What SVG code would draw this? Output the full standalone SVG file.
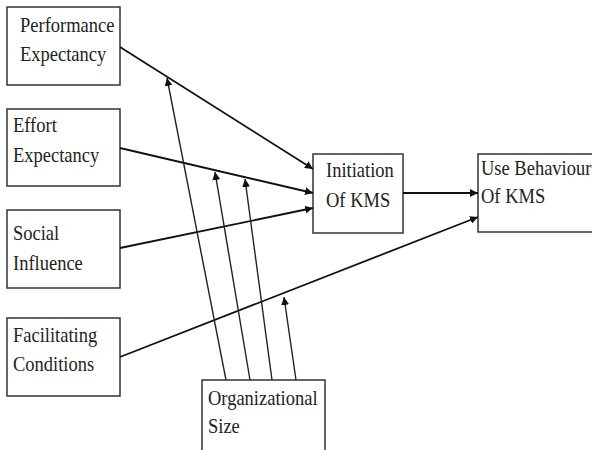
<svg xmlns="http://www.w3.org/2000/svg" width="592" height="450" viewBox="0 0 592 450">
<style>
.box{fill:#fff;stroke:#333;stroke-width:1.5}
.t{font-family:'Liberation Serif','Times New Roman','Nimbus Roman',serif;font-size:18.5px;fill:#222}
.c{stroke:#111;stroke-width:1.8;fill:none;marker-end:url(#ah)}
.m{stroke:#222;stroke-width:1.4;fill:none;marker-end:url(#ah)}
</style>
<defs>
<marker id="ah" viewBox="0 0 10 10" refX="10" refY="5" markerWidth="8" markerHeight="8" markerUnits="userSpaceOnUse" orient="auto">
<path d="M0,0 L10,5 L0,10 z" fill="#111"/>
</marker>
</defs>
<g id="pe"><rect class="box" x="7" y="7" width="113" height="78"/>
<text class="t" font-family="Liberation Serif, serif" transform="translate(20,32) scale(1,1.15)">Performance</text>
<text class="t" transform="translate(20,61) scale(1,1.15)">Expectancy</text></g>
<g id="ee"><rect class="box" x="7" y="109" width="113" height="77"/>
<text class="t" transform="translate(13,132) scale(1,1.15)">Effort</text>
<text class="t" transform="translate(13,162) scale(1,1.15)">Expectancy</text></g>
<g id="si"><rect class="box" x="7" y="210" width="113" height="78"/>
<text class="t" transform="translate(13,240) scale(1,1.15)">Social</text>
<text class="t" transform="translate(13,270) scale(1,1.15)">Influence</text></g>
<g id="fc"><rect class="box" x="7" y="318" width="113" height="78"/>
<text class="t" transform="translate(13,342) scale(1,1.15)">Facilitating</text>
<text class="t" transform="translate(13,371) scale(1,1.15)">Conditions</text></g>
<g id="init"><rect class="box" x="313" y="154" width="90" height="79"/>
<text class="t" transform="translate(326,177) scale(1,1.15)">Initiation</text>
<text class="t" transform="translate(326,207) scale(1,1.15)">Of KMS</text></g>
<g id="use"><rect class="box" x="478" y="154" width="130" height="78"/>
<text class="t" transform="translate(481,175) scale(1,1.15)">Use Behaviour</text>
<text class="t" transform="translate(481,203) scale(1,1.15)">Of KMS</text></g>
<g id="org"><rect class="box" x="202" y="380" width="123" height="80"/>
<text class="t" transform="translate(208,405) scale(1,1.15)">Organizational</text>
<text class="t" transform="translate(208,433) scale(1,1.15)">Size</text></g>
<g id="connectors">
<line class="c" x1="120" y1="47" x2="313" y2="169"/>
<line class="c" x1="120" y1="148" x2="313" y2="193"/>
<line class="c" x1="120" y1="248" x2="313" y2="208"/>
<line class="c" x1="120" y1="357" x2="478" y2="217"/>
<line class="c" x1="403" y1="193" x2="478" y2="193"/>
<line class="m" x1="226" y1="380" x2="167" y2="78"/>
<line class="m" x1="250" y1="380" x2="215" y2="172"/>
<line class="m" x1="272" y1="380" x2="245" y2="179"/>
<line class="m" x1="296" y1="380" x2="284" y2="297"/>
</g>
</svg>
